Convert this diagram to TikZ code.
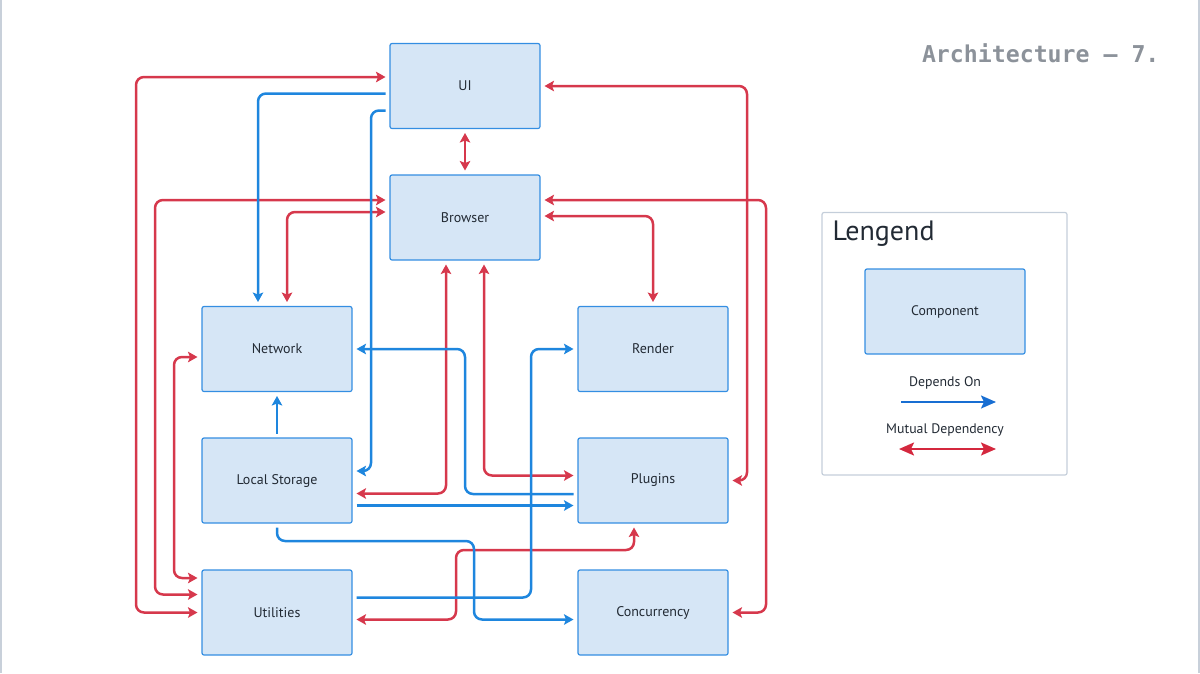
\documentclass[tikz,border=0pt]{standalone}
\usepackage{fontspec}
\setmainfont{PT Sans}
\newfontfamily\titlefont{DejaVu Sans Mono}
\usetikzlibrary{arrows.meta,calc}
\definecolor{cblue}{RGB}{30,134,222}
\definecolor{cred}{RGB}{214,56,76}
\definecolor{lblue}{RGB}{24,110,210}
\definecolor{lred}{RGB}{212,40,62}
\definecolor{boxfill}{RGB}{214,230,246}
\definecolor{boxline}{RGB}{52,142,226}
\definecolor{txt}{RGB}{34,42,52}
\definecolor{titlegray}{RGB}{140,146,154}
\definecolor{framecol}{RGB}{200,208,218}
\definecolor{legline}{RGB}{196,206,218}
\begin{document}
\begin{tikzpicture}[x=1pt,y=-1pt,
  comp/.style={draw=boxline, fill=boxfill, line width=1.2pt, rounded corners=2pt,
    minimum width=150pt, minimum height=85pt, inner sep=0pt, outer sep=4.5pt,
    font=\fontsize{14}{16}\selectfont, text=txt},
  conn/.style={line width=2.5pt, rounded corners=8pt},
  tip/.tip={Stealth[length=9.5pt,width=10.5pt,inset=2pt]},
  bigtip/.tip={Stealth[length=15pt,width=13pt,inset=3pt]},
  dep/.style={conn, draw=cblue, -tip},
  mutual/.style={conn, draw=cred, tip-tip},
  lbl/.style={font=\fontsize{13.8}{15}\selectfont, text=txt}
]
\useasboundingbox (0,0) rectangle (1200,673);
\draw[framecol, line width=1.5pt] (0.75,0) -- (0.75,673);
\draw[framecol, line width=1.5pt] (1198.8,0) -- (1198.8,673);

% title
\node[anchor=east, font=\titlefont\bfseries\fontsize{23.2}{26}\selectfont, text=titlegray] (title) at (1163,53) {Architecture — 7.};

% components
\node[comp] (ui)   at (465,86)  {UI};
\node[comp] (br)   at (465,217.5)   {Browser};
\node[comp] (net)  at (277,349) {Network};
\node[comp] (ren)  at (653,349) {Render};
\node[comp] (ls)   at (277,480.5)   {Local Storage};
\node[comp] (plg)  at (653,480.5)   {Plugins};
\node[comp] (util) at (277,612.5)   {Utilities};
\node[comp] (conc) at (653,612.5)   {Concurrency};

% mutual dependencies
\draw[mutual] ($(ui.west)+(0,-9)$) -- (136,77) -- (136,612.5) -- (util.west);
\draw[mutual] ($(br.west)+(0,-17.5)$) -- (155,200) -- (155,594.5) -- ($(util.west)+(0,-18)$);
\draw[mutual] ($(br.west)+(0,-5.5)$) -- (287,212) -- ($(net.north)+(10,0)$);
\draw[mutual] (ui.east) -- (747,86) -- (747,480.5) -- (plg.east);
\draw[mutual] ($(br.east)+(0,-17.5)$) -- (766,200) -- (766,612.5) -- (conc.east);
\draw[mutual] ($(br.east)+(0,-1.5)$) -- (653,216) -- (ren.north);
\draw[mutual] (ui.south) -- (br.north);
\draw[mutual] ($(br.south)+(-19,0)$) -- (446,493.5) -- ($(ls.east)+(0,13)$);
\draw[mutual] ($(br.south)+(19,0)$) -- (484,475.5) -- ($(plg.west)+(0,-5)$);
\draw[mutual] ($(util.east)+(0,7)$) -- (456,619.5) -- (456,550) -- (634,550) -- ($(plg.south)+(-19,0)$);
\draw[mutual] ($(net.west)+(0,8)$) -- (174,357) -- (174,578) -- ($(util.west)+(0,-34.5)$);

% depends on
\draw[dep] ($(ui.west)+(0,7.5)$) -- (258,93.5) -- ($(net.north)+(-19,0)$);
\draw[dep] ($(ui.west)+(0,24.5)$) -- (371,110.5) -- (371,471) -- ($(ls.east)+(0,-9.5)$);
\draw[dep] ($(plg.west)+(0,13.5)$) -- (465,494) -- (465,349) -- (net.east);
\draw[dep] ($(ls.east)+(0,25)$) -- ($(plg.west)+(0,25)$);
\draw[dep] (ls.north) -- (net.south);
\draw[dep] (ls.south) -- (277,541) -- (474,541) -- (474,619.5) -- ($(conc.west)+(0,7)$);
\draw[dep] ($(util.east)+(0,-15)$) -- (531,597.5) -- (531,349) -- (ren.west);

% legend
\draw[legline, line width=1.2pt, rounded corners=2pt] (822,212.5) rectangle (1067,475);
\node[anchor=west, font=\fontsize{28}{31}\selectfont, text=txt] (legtitle) at (829,234) {Lengend};
\node[comp, minimum width=160pt] (legcomp) at (945,311.5) {\fontsize{13.8}{15}\selectfont Component};
\node[lbl] (legdep) at (945,383) {Depends On};
\coordinate (ld1) at (901,402);
\coordinate (ld2) at (996,402);
\draw[lblue, line width=2pt, -bigtip] (ld1) -- (ld2);
\node[lbl] (legmut) at (945,430) {Mutual Dependency};
\coordinate (lm1) at (899,449);
\coordinate (lm2) at (996,449);
\draw[lred, line width=2pt, bigtip-bigtip] (lm1) -- (lm2);
\end{tikzpicture}
\end{document}
